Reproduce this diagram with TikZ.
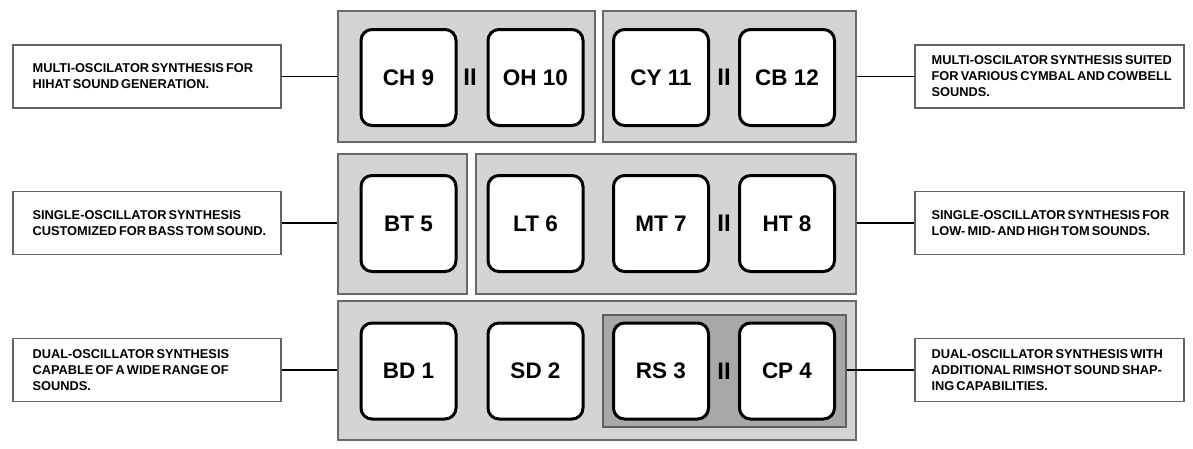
\documentclass[tikz,border=0pt]{standalone}
\usepackage{fontspec}
\setmainfont{Liberation Sans}
\newfontfamily\descfont{Liberation Sans}[WordSpace=0.6]
\usetikzlibrary{fit}
\definecolor{panelfill}{RGB}{212,212,212}
\definecolor{panelborder}{RGB}{105,105,105}
\definecolor{innerfill}{RGB}{168,168,168}
\definecolor{innerborder}{RGB}{95,95,95}
\definecolor{boxborder}{RGB}{100,100,100}
\tikzset{
  panel/.style={draw=panelborder, fill=panelfill, line width=1.3pt, inner sep=0pt},
  innerpanel/.style={draw=innerborder, fill=innerfill, line width=1.3pt, inner sep=0pt},
  pad/.style={draw=black, fill=white, line width=3pt, rounded corners=11pt,
    minimum width=95pt, minimum height=96pt, inner sep=0pt,
    font=\bfseries\fontsize{22.5}{22.5}\selectfont},
  sepmark/.style={inner sep=0pt, font=\bfseries\fontsize{24}{24}\selectfont, text=black},
  descbox/.style={draw=boxborder, fill=white, line width=1.2pt, minimum width=268pt,
    minimum height=63pt, inner sep=0pt},
  desctext/.style={anchor=west, align=left, inner sep=0pt,
    font=\descfont\bfseries\fontsize{12.8}{16}\selectfont},
  conn/.style={draw=black, line width=1.8pt}
}
\begin{document}
\begin{tikzpicture}[x=1pt,y=-1pt]
\useasboundingbox (0,0) rectangle (1193,448);
% panels
\node[panel, fit={(338,11) (595,142)}] (pTL) {};
\node[panel, fit={(603,11) (856,142)}] (pTR) {};
\node[panel, fit={(338,154) (467,294)}] (pML) {};
\node[panel, fit={(476,154) (856,294)}] (pMR) {};
\node[panel, fit={(338,301) (856,440)}] (pB) {};
\node[innerpanel, fit={(603,315) (846,427)}] (pBi) {};
% pads top
\node[pad] (ch) at (408.5,77.5) {CH 9};
\node[pad] (oh) at (535.5,77.5) {OH 10};
\node[pad] (cy) at (661,77.5) {CY 11};
\node[pad] (cb) at (787,77.5) {CB 12};
\node[sepmark] (s1) at (470,77.5) {II};
\node[sepmark] (s2) at (724,77.5) {II};
% pads middle
\node[pad] (bt) at (408.5,223.5) {BT 5};
\node[pad] (lt) at (535.5,223.5) {LT 6};
\node[pad] (mt) at (661,223.5) {MT 7};
\node[pad] (ht) at (787,223.5) {HT 8};
\node[sepmark] (s3) at (724,223.5) {II};
% pads bottom
\node[pad] (bd) at (408.5,371) {BD 1};
\node[pad] (sd) at (535.5,371) {SD 2};
\node[pad] (rs) at (661,371) {RS 3};
\node[pad] (cp) at (787,371) {CP 4};
\node[sepmark] (s4) at (724,371) {II};
% description boxes
\node[descbox] (dL1) at (147,76.5) {};
\node[desctext] (tL1) at ([xshift=20pt]dL1.west) {MULTI-OSCILATOR SYNTHESIS FOR\\HIHAT SOUND GENERATION.};
\node[descbox, minimum width=269pt] (dR1) at (1049.5,76.5) {};
\node[desctext] (tR1) at ([xshift=17pt]dR1.west) {MULTI-OSCILATOR SYNTHESIS SUITED\\FOR VARIOUS CYMBAL AND COWBELL\\SOUNDS.};
\node[descbox] (dL2) at (147,223) {};
\node[desctext] (tL2) at ([xshift=20pt]dL2.west) {SINGLE-OSCILLATOR SYNTHESIS\\CUSTOMIZED FOR BASS TOM SOUND.};
\node[descbox, minimum width=269pt] (dR2) at (1049.5,223) {};
\node[desctext] (tR2) at ([xshift=17pt]dR2.west) {SINGLE-OSCILLATOR SYNTHESIS FOR\\LOW- MID- AND HIGH TOM SOUNDS.};
\node[descbox] (dL3) at (147,370) {};
\node[desctext] (tL3) at ([xshift=20pt]dL3.west) {DUAL-OSCILLATOR SYNTHESIS\\CAPABLE OF A WIDE RANGE OF\\SOUNDS.};
\node[descbox, minimum width=269pt] (dR3) at (1049.5,370) {};
\node[desctext] (tR3) at ([xshift=17pt]dR3.west) {DUAL-OSCILLATOR SYNTHESIS WITH\\ADDITIONAL RIMSHOT SOUND SHAP-\\ING CAPABILITIES.};
% connectors
\draw[conn] (dL1.east) -- (dL1.east -| pTL.west);
\draw[conn] (dR1.west) -- (dR1.west -| pTR.east);
\draw[conn] (dL2.east) -- (dL2.east -| pML.west);
\draw[conn] (dR2.west) -- (dR2.west -| pMR.east);
\draw[conn] (dL3.east) -- (dL3.east -| pB.west);
\draw[conn] (dR3.west) -- (dR3.west -| pBi.east);
\end{tikzpicture}
\end{document}
